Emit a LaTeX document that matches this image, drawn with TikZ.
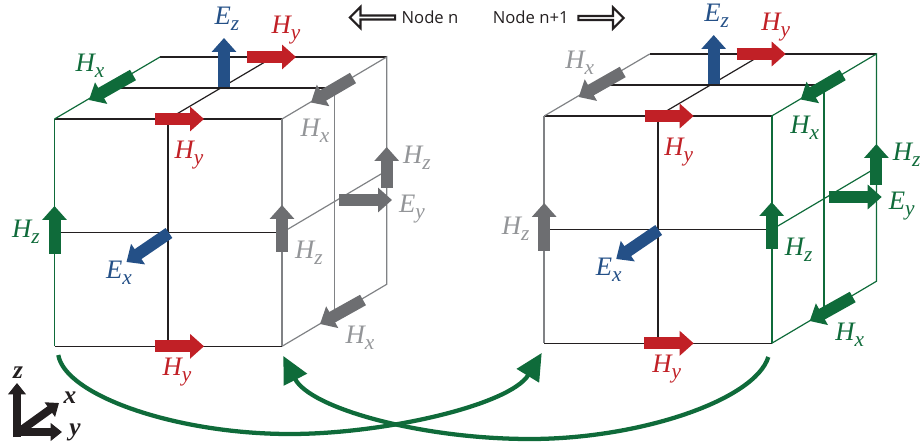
\documentclass[tikz,border=0pt]{standalone}
\usepackage{fontspec}
\setmainfont{Liberation Serif}
\setsansfont{Open Sans}
\usetikzlibrary{arrows.meta,shapes.arrows,calc}

% Colour families of one cell
\definecolor{edgeBlack}{HTML}{231F20}
\definecolor{arrowGreen}{HTML}{0F6B3A}
\definecolor{labelGreen}{HTML}{0F6B3A}
\definecolor{edgeGreen}{HTML}{0F6B3A}
\definecolor{arrowGray}{HTML}{6D6E71}
\definecolor{labelGray}{HTML}{939598}
\definecolor{edgeGray}{HTML}{808285}
\definecolor{fieldRed}{HTML}{C12026}
\definecolor{fieldBlue}{HTML}{245087}

\tikzset{
    fieldarrow/.style={line width=9pt, -{Triangle[length=10.5pt, width=18pt]}},
    fieldlabel/.style={inner sep=0pt, yshift=-1.9pt, font=\fontsize{20}{22}\selectfont\itshape},
    frontedge/.style={line width=1.2pt},
    backedge/.style={line width=.9pt},
    axisarrow/.style={edgeBlack, line width=6pt, -{Triangle[length=8.5pt, width=13pt]}},
    axislabel/.style={inner sep=0pt, font=\fontsize{19}{20}\selectfont\bfseries\itshape, edgeBlack},
    hoparrow/.style={arrowGreen, line width=3.2pt, -{Triangle[length=20pt, width=19pt]}},
    nodearrow/.style={single arrow, draw=edgeBlack, line width=1.6pt, fill=white, inner sep=0pt,
        minimum height=34pt, minimum width=16pt, single arrow head extend=3.4pt,
        single arrow head indent=0pt},
    nodetext/.style={font=\sffamily\fontsize{12.5}{14}\selectfont, edgeBlack, inner sep=0pt},
}

% Field name with its lowered component
\newcommand{\fieldName}[2]{#1\raisebox{-4.5pt}{\fontsize{16}{16}\selectfont #2}}

% One cell; #1 name suffix, #2 left family, #3 right family
\newcommand{\drawCell}[3]{
    % Corners
    \coordinate (FTL#1) at (54.5,119);
    \coordinate (FTR#1) at (282,119);
    \coordinate (FBL#1) at (54.5,346.3);
    \coordinate (FBR#1) at (282,346.3);
    \coordinate (BTL#1) at (160,57);
    \coordinate (BTR#1) at (386.7,57);
    \coordinate (BBR#1) at (386.7,284.3);

    % Black edges
    \draw[frontedge, edgeBlack] (FTL#1) -- (FTR#1);
    \draw[frontedge, edgeBlack] (FBL#1) -- (FBR#1);
    \draw[frontedge, edgeBlack] ($(FTL#1)!.5!(FBL#1)$) -- ($(FTR#1)!.5!(FBR#1)$);
    \draw[frontedge, edgeBlack] ($(FTL#1)!.5!(FTR#1)$) -- ($(FBL#1)!.5!(FBR#1)$);
    \draw[backedge, edgeBlack] (BTL#1) -- (BTR#1);
    \draw[backedge, edgeBlack] ($(FTL#1)!.5!(BTL#1)$) -- ($(FTR#1)!.5!(BTR#1)$);
    \draw[backedge, edgeBlack] ($(FTL#1)!.5!(FTR#1)$) -- ($(BTL#1)!.5!(BTR#1)$);

    % Left side edges
    \draw[frontedge, edge#2] (FTL#1) -- (FBL#1);
    \draw[backedge, edge#2] (FTL#1) -- (BTL#1);

    % Right side edges
    \draw[frontedge, edge#3] (FTR#1) -- (FBR#1);
    \draw[backedge, edge#3] (FTR#1) -- (BTR#1) -- (BBR#1) -- (FBR#1);
    \draw[backedge, edge#3] ($(FTR#1)!.5!(BTR#1)$) -- ($(FBR#1)!.5!(BBR#1)$);
    \draw[backedge, edge#3] ($(FTR#1)!.5!(FBR#1)$) -- ($(BTR#1)!.5!(BBR#1)$);

    % Red and blue fields
    \draw[fieldarrow, fieldBlue] (224,87) -- (224,38);
    \draw[fieldarrow, fieldRed] (247,57) -- (296,57);
    \draw[fieldarrow, fieldRed] (155,119) -- (204,119);
    \draw[fieldarrow, fieldRed] (154.5,346.3) -- (204,346.3);
    \draw[fieldarrow, fieldBlue] (169,233) -- (126.5,262);

    % Left side fields
    \draw[fieldarrow, arrow#2] (133,75) -- (89,100);
    \draw[fieldarrow, arrow#2] (54.5,254) -- (54.5,206);

    % Right side fields
    \draw[fieldarrow, arrow#3] (353,78) -- (311,102.5);
    \draw[fieldarrow, arrow#3] (386.7,188) -- (386.7,147);
    \draw[fieldarrow, arrow#3] (339,200) -- (392,200);
    \draw[fieldarrow, arrow#3] (282,252) -- (282,205);
    \draw[fieldarrow, arrow#3] (363,300) -- (320,324);

    % Labels
    \node[fieldlabel, fieldBlue] (Ez#1) at (227,16) {\fieldName{E}{z}};
    \node[fieldlabel, fieldRed] (HyBack#1) at (286,28) {\fieldName{H}{y}};
    \node[fieldlabel, fieldRed] (HyTop#1) at (189,153) {\fieldName{H}{y}};
    \node[fieldlabel, fieldRed] (HyBottom#1) at (177,370) {\fieldName{H}{y}};
    \node[fieldlabel, fieldBlue] (Ex#1) at (119,270) {\fieldName{E}{x}};
    \node[fieldlabel, label#2] (HxLeft#1) at (90,63) {\fieldName{H}{x}};
    \node[fieldlabel, label#2] (HzLeft#1) at (26,229) {\fieldName{H}{z}};
    \node[fieldlabel, label#3] (HxTop#1) at (315,128) {\fieldName{H}{x}};
    \node[fieldlabel, label#3] (HzBack#1) at (417,155) {\fieldName{H}{z}};
    \node[fieldlabel, label#3] (Ey#1) at (412,207) {\fieldName{E}{y}};
    \node[fieldlabel, label#3] (HzFront#1) at (309,250) {\fieldName{H}{z}};
    \node[fieldlabel, label#3] (HxBottom#1) at (360,335) {\fieldName{H}{x}};
}

\begin{document}
\begin{tikzpicture}[x=.75pt, y=-.75pt]

\useasboundingbox (0,0) rectangle (924,445);

% The two cells
\drawCell{L}{Green}{Gray}
\begin{scope}[shift={(489.7,-3)}]
    \drawCell{R}{Gray}{Green}
\end{scope}

% Direction marks
\node[nodearrow, shape border rotate=180] (arrowN) at (373.5,17.5) {};
\node[nodetext] (textN) at (430,17.5) {Node n};
\node[nodetext] (textNp) at (530.7,17.5) {Node n+1};
\node[nodearrow] (arrowNp) at (600,18) {};

% Hops between the cells
\draw[hoparrow] (58.3,355) .. controls (65,395) and (175,434) .. (290,434)
    .. controls (385,434) and (510,405) .. (541.7,353);
\draw[hoparrow] (768.3,357) .. controls (755,400) and (640,439) .. (530,439)
    .. controls (420,439) and (310,408) .. (283.3,356);

% Axes
\draw[axisarrow] (17,437) -- (17,383);
\draw[axisarrow] (13,432) -- (62,432);
\draw[axisarrow] (20,431) -- (59,403);
\node[axislabel] (axisZ) at (18,373) {z};
\node[axislabel] (axisX) at (70,398) {x};
\node[axislabel] (axisY) at (75,432) {y};

\end{tikzpicture}
\end{document}
